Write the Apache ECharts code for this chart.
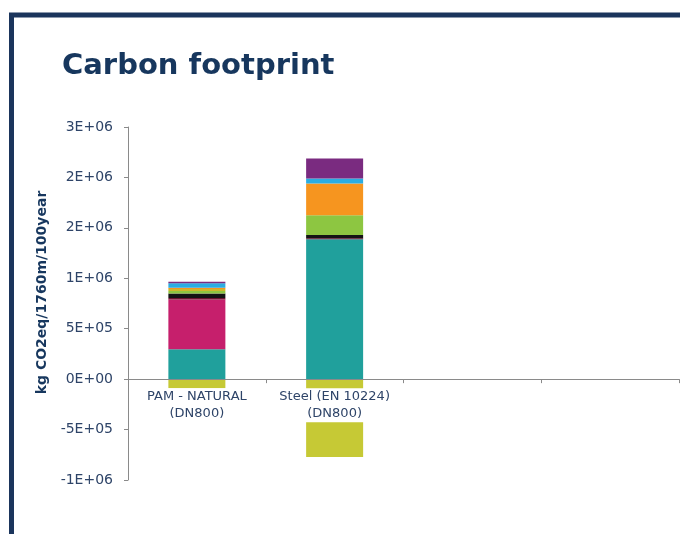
<!DOCTYPE html>
<html>
<head>
<meta charset="utf-8">
<script src="https://cdn.jsdelivr.net/npm/echarts@6/dist/echarts.min.js"></script>
<style>
  html, body { margin: 0; padding: 0; background: #ffffff; }
  #chart { width: 680px; height: 534px; }
</style>
</head>
<body>
<div id="chart"></div>
<script>
// Pipe options compared (two empty slots keep the axis running to the edge)
const categories = ['PAM - NATURAL\n(DN800)', 'Steel (EN 10224)\n(DN800)', '', ''];

// Life-cycle contributions, kg CO2eq per 1760 m over 100 years (stacked bottom to top)
const tealValues      = [297000, 1388000, null, null];
const magentaValues   = [493000, 0, null, null];
const darkRedValues   = [15000, 10000, null, null];
const blackValues     = [45000, 30000, null, null];
const greenValues     = [23000, 198000, null, null];
const yellowValues    = [22000, 0, null, null];
const orangeValues    = [10000, 314000, null, null];
const lightBlueValues = [45000, 50000, null, null];
const purpleValues    = [15000, 198000, null, null];
// Credits (negative side)
const oliveValues     = [-90000, -773000, null, null];

// Value-axis tick labels, from -1E+06 up to the top tick
const yTickLabels = ['-1E+06', '-5E+05', '0E+00', '5E+05', '1E+06', '2E+06', '2E+06', '3E+06'];

const Y_MIN = -1000000;
const Y_MAX = 2500000;

const NAVY = '#17375e';
const LABEL = '#2e4468';
const AXIS = '#8a8a8a';
const FONT = '"DejaVu Sans", "Liberation Sans", Arial, sans-serif';

const GRID_TOP = 127;
const GRID_BOTTOM = 54;
const PLOT_H = 534 - GRID_TOP - GRID_BOTTOM;
// lift the category axis (line, ticks and labels) from the grid bottom up to the zero line
const zeroLift = PLOT_H * (0 - Y_MIN) / (Y_MAX - Y_MIN);

const layers = [
  { name: 'teal',      data: tealValues,      color: '#20a09c' },
  { name: 'magenta',   data: magentaValues,   color: '#c61f6c' },
  { name: 'darkred',   data: darkRedValues,   color: '#6e1230' },
  { name: 'black',     data: blackValues,     color: '#141414' },
  { name: 'green',     data: greenValues,     color: '#8dc641' },
  { name: 'yellow',    data: yellowValues,    color: '#cdb82c' },
  { name: 'orange',    data: orangeValues,    color: '#f6951f' },
  { name: 'lightblue', data: lightBlueValues, color: '#2aade2' },
  { name: 'purple',    data: purpleValues,    color: '#7a2b80' },
  { name: 'olive',     data: oliveValues,     color: '#c6c935' }
];

const chart = echarts.init(document.getElementById('chart'), null, { renderer: 'canvas' });

chart.setOption({
  animation: false,
  backgroundColor: '#ffffff',
  title: {
    text: 'Carbon footprint',
    left: 57,
    top: 47,
    textStyle: { color: NAVY, fontFamily: FONT, fontWeight: 'bold', fontSize: 29 }
  },
  graphic: [{
    type: 'rect',
    silent: true,
    z: 100,
    shape: { x: 11.5, y: 15, width: 720, height: 560 },
    style: { fill: null, stroke: '#1b355c', lineWidth: 5 }
  }],
  grid: { left: 128, right: 1, top: GRID_TOP, bottom: GRID_BOTTOM, containLabel: false },
  xAxis: {
    type: 'category',
    data: categories,
    z: 5,
    position: 'bottom',
    offset: -zeroLift,
    axisLine: { onZero: false, lineStyle: { color: AXIS, width: 1 } },
    axisTick: { show: true, length: 4, lineStyle: { color: AXIS } },
    axisLabel: {
      interval: 0,
      margin: 9,
      color: LABEL,
      fontFamily: FONT,
      fontSize: 13,
      lineHeight: 17,
      backgroundColor: '#ffffff'
    },
    splitLine: { show: false }
  },
  yAxis: {
    type: 'value',
    min: Y_MIN,
    max: Y_MAX,
    interval: 500000,
    name: 'kg CO2eq/1760m/100year',
    nameLocation: 'middle',
    nameGap: 77,
    nameTextStyle: {
      color: NAVY, fontFamily: FONT, fontWeight: 'bold', fontSize: 14,
      padding: [0, 0, 0, 22]
    },
    axisLine: { show: true, lineStyle: { color: AXIS, width: 1 } },
    axisTick: { show: true, length: 4, lineStyle: { color: AXIS } },
    axisLabel: {
      margin: 15,
      color: LABEL,
      fontFamily: FONT,
      fontSize: 14,
      formatter: (value, index) => yTickLabels[index]
    },
    splitLine: { show: false }
  },
  series: layers.map(l => ({
    name: l.name,
    type: 'bar',
    stack: 'footprint',
    barWidth: 57,
    data: l.data,
    itemStyle: { color: l.color },
    emphasis: { disabled: true }
  }))
});
</script>
</body>
</html>
